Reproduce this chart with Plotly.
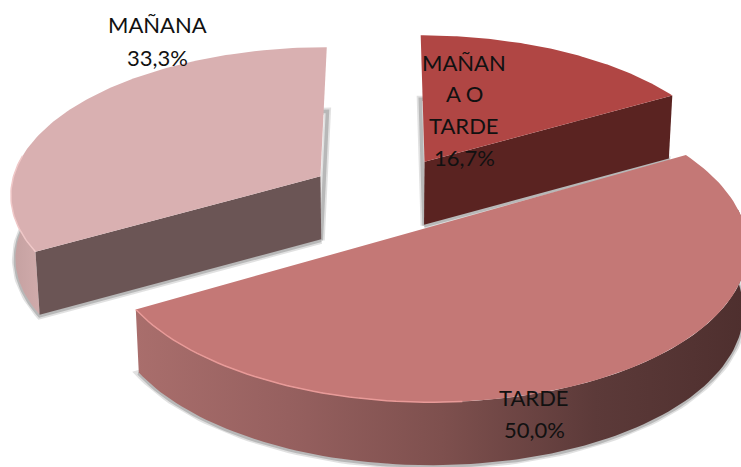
import numpy as np
import plotly.graph_objects as go

# ---- data ----
categories = ["MAÑANA O TARDE", "TARDE", "MAÑANA"]
values = [16.7, 50.0, 33.3]
label_lines = [["MAÑAN", "A O", "TARDE", "16,7%"], ["TARDE", "50,0%"], ["MAÑANA", "33,3%"]]

# ---- styles ----
top_colors = ["#b04644", "#c47876", "#d9b0b1"]
cut_colors = ["#5a2321", "#c47876", "#6b5555"]
rim_colors = [None, "#e89a98", "#f0c8c8"]
outer_scales = [
    [[0, "#5a2321"], [1, "#5a2321"]],
    [[0, "#a96e6c"], [0.25, "#96605f"], [0.5, "#7e504e"], [0.75, "#5c3a39"], [1, "#4e2f2e"]],
    [[0, "#c4a0a0"], [1, "#d0abab"]],
]
label_anchor = [(464, 62, 31.7), (534, 397, 32), (157, 24, 33)]

# ---- camera model of the exploded, tilted disc ----
CX, CY, SX, SY, K = 385, 194, 311, 147, 0.11
EXPLODE, DEPTH, SHRINK = [0.26, 0.26, 0.243], 63, 0.988


def project(u, v, lower=False):
    w = 1 + K * v
    x = CX + SX * u / w
    y = CY - SY * v / w
    if lower:
        x = CX + (x - CX) * SHRINK
        y = y + DEPTH
    return x, y


total = sum(values)
edges = np.cumsum([0] + values) / total * 2 * np.pi
slices = []
for i in range(len(values)):
    a0, a1 = edges[i], edges[i + 1]
    mid = (a0 + a1) / 2
    ou, ov = EXPLODE[i] * np.sin(mid), EXPLODE[i] * np.cos(mid)
    th = np.linspace(a0, a1, 120)
    slices.append((ou, ov, th))

fig = go.Figure()


def poly(x, y, **kw):
    fig.add_trace(go.Scatter(x=x, y=y, mode="lines", hoverinfo="skip", showlegend=False, **kw))


# right slice, then left slice, then big front slice
for i in [0, 2, 1]:
    ou, ov, th = slices[i]
    au, av = ou + np.sin(th), ov + np.cos(th)
    # soft shadow round the lower outline
    bx, by = project(np.r_[ou, au, ou], np.r_[ov, av, ov], True)
    poly(bx, by + 1, line=dict(color="rgba(90,90,90,0.18)", width=7))
    poly(bx, by + 1, line=dict(color="rgba(90,90,90,0.30)", width=3.5))

    # outer wall: only the arc part that faces the viewer
    mask = np.cos(th) < 0.15
    if i != 0 and mask.any():
        tu, tv = au[mask], av[mask]
        x1, y1 = project(tu, tv)
        x2, y2 = project(tu, tv, True)
        poly(np.r_[x1, x2[::-1], x1[0]], np.r_[y1, y2[::-1], y1[0]],
             line=dict(width=0), fill="toself",
             fillgradient=dict(type="horizontal", colorscale=outer_scales[i]))

    # cut wall from the centre to the slice's leading edge
    if i != 1:
        edge_t = th[-1] if i == 0 else th[0]
        eu, ev = ou + np.sin(edge_t), ov + np.cos(edge_t)
        x1, y1 = project(np.array([ou, eu]), np.array([ov, ev]))
        x2, y2 = project(np.array([ou, eu]), np.array([ov, ev]), True)
        poly(np.r_[x1, x2[::-1], x1[0]], np.r_[y1, y2[::-1], y1[0]],
             line=dict(width=0), fill="toself", fillcolor=cut_colors[i])

    # top surface
    tx, ty = project(np.r_[ou, au, ou], np.r_[ov, av, ov])
    poly(tx, ty, line=dict(width=0), fill="toself", fillcolor=top_colors[i])

    # light rim on the lit, left-hand front of the arc
    rim = mask & (np.sin(th) < 0.1)
    if rim_colors[i] and rim.any():
        rx, ry = project(au[rim], av[rim])
        poly(rx, ry, line=dict(color=rim_colors[i], width=1.5))

annotations = []
for lines, (ax, ay, step) in zip(label_lines, label_anchor):
    for n, line in enumerate(lines):
        annotations.append(dict(x=ax, y=ay + n * step, text=line, showarrow=False,
                                xref="x", yref="y", xanchor="center", yanchor="middle",
                                font=dict(family="Lato", size=22, color="#111111")))

fig.update_layout(
    width=741, height=467,
    margin=dict(l=0, r=0, t=0, b=0),
    paper_bgcolor="white", plot_bgcolor="white",
    showlegend=False,
    xaxis=dict(range=[0, 741], visible=False, fixedrange=True),
    yaxis=dict(range=[467, 0], visible=False, fixedrange=True),
    annotations=annotations,
)
fig.write_html("out.html", config={"displayModeBar": False},
               post_script="document.body.style.margin='0';document.body.style.overflow='hidden';")
